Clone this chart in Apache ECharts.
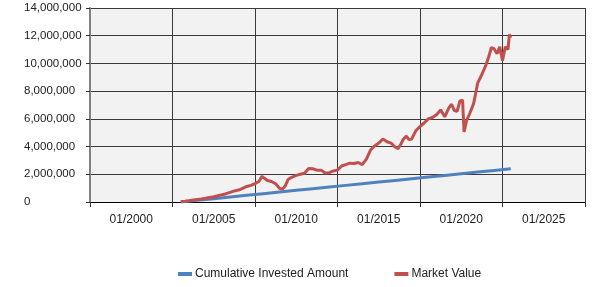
<!DOCTYPE html>
<html>
<head>
<meta charset="utf-8">
<script src="https://cdn.jsdelivr.net/npm/echarts@6/dist/echarts.min.js"></script>
<style>
html,body{margin:0;padding:0;background:#fff;}
#c{width:600px;height:287px;}
</style>
</head>
<body>
<div id="c"></div>
<script>
var tickLabels = ['01/2000','01/2005','01/2010','01/2015','01/2020','01/2025'];
var seriesNames = ['Cumulative Invested Amount','Market Value'];

var investedDates = [2003,2004,2005,2006,2007,2008,2009,2010,2011,2012,2013,2014,2015,2016,2017,2018,2019,2020,2021,2022,2023];
var investedValues = [0,120000,240000,360000,480000,600000,720000,840000,960000,1080000,1200000,1320000,1440000,1560000,1680000,1800000,1920000,2040000,2160000,2280000,2400000];

var marketDates = [
 2003.00,2003.25,2003.50,2003.75,2004.00,2004.25,2004.50,2004.75,
 2005.00,2005.25,2005.50,2005.75,2006.00,2006.25,2006.50,2006.75,
 2007.00,2007.25,2007.50,2007.75,2007.92,2008.00,2008.25,2008.50,2008.75,
 2009.00,2009.17,2009.33,2009.50,2009.75,2010.00,2010.25,2010.50,2010.75,
 2011.00,2011.25,2011.50,2011.75,2012.00,2012.25,2012.50,2012.75,
 2013.00,2013.25,2013.50,2013.75,2014.00,2014.25,2014.50,2014.75,
 2015.00,2015.25,2015.50,2015.75,2016.00,2016.17,2016.33,2016.50,2016.67,2016.83,
 2017.00,2017.25,2017.50,2017.75,2018.00,2018.25,2018.50,2018.75,
 2019.00,2019.25,2019.42,2019.58,2019.75,2019.92,2020.08,2020.17,2020.33,2020.50,2020.75,
 2021.00,2021.25,2021.50,2021.67,2021.83,2022.00,2022.17,2022.33,2022.50,2022.67,2022.83,2022.92,2023.00
];
var marketValues = [
 20000,50000,90000,140000,180000,220000,270000,330000,
 380000,450000,520000,600000,700000,800000,860000,980000,
 1120000,1200000,1320000,1500000,1850000,1840000,1550000,1480000,1320000,
 980000,930000,1150000,1620000,1800000,1920000,2000000,2080000,2420000,
 2400000,2300000,2300000,2100000,2120000,2240000,2300000,2600000,
 2700000,2800000,2780000,2850000,2700000,3100000,3750000,4050000,
 4250000,4550000,4350000,4250000,3950000,3850000,4150000,4550000,4750000,4500000,
 4550000,5150000,5450000,5700000,6000000,6100000,6300000,6650000,
 6150000,6800000,7050000,6600000,6550000,7300000,7350000,5050000,5900000,6350000,7100000,
 8600000,9200000,9900000,10500000,11150000,11050000,10700000,11200000,10200000,11200000,11000000,12100000,11850000
];

function pairs(xs, ys){ return xs.map(function(x,i){ return [x, ys[i]]; }); }
function fmt(v){ return String(v).replace(/\B(?=(\d{3})+(?!\d))/g, ','); }

var chart = echarts.init(document.getElementById('c'), null, {renderer:'canvas'});
chart.setOption({
  animation:false,
  textStyle:{fontFamily:'Liberation Sans, Arial, sans-serif'},
  grid:{left:90,right:15,top:8,bottom:85,show:true,backgroundColor:'#F2F2F2',borderWidth:0},
  legend:{
    data:seriesNames, left:173, top:263, icon:'rect', itemWidth:14, itemHeight:4,
    itemGap:46, textStyle:{fontSize:12,color:'#222',padding:[0,0,0,-2]}
  },
  xAxis:[{
    type:'category', data:tickLabels, boundaryGap:true, position:'bottom',
    axisLine:{show:true,lineStyle:{color:'#000',width:1}},
    axisTick:{show:true,length:5,lineStyle:{color:'#333'}},
    axisLabel:{fontSize:12,color:'#222',margin:12},
    splitLine:{show:true,interval:0,lineStyle:{color:'#3a3a3a',width:1}}
  },{
    type:'value', min:1997.5, max:2027.5, show:false
  }],
  yAxis:{
    type:'value', min:0, max:14000000, interval:2000000,
    axisLine:{show:true,lineStyle:{color:'#808080',width:2}},
    axisTick:{show:true,length:4,lineStyle:{color:'#333'}},
    axisLabel:{fontSize:11.5,color:'#222',align:'left',margin:66,formatter:fmt},
    splitLine:{show:true,lineStyle:{color:'#3a3a3a',width:1}}
  },
  series:[{
    name:seriesNames[0], type:'line', xAxisIndex:1, showSymbol:false, symbol:'none',
    data:pairs(investedDates, investedValues),
    itemStyle:{color:'#4F81BD'}, lineStyle:{color:'#4F81BD',width:3}
  },{
    name:seriesNames[1], type:'line', xAxisIndex:1, showSymbol:false, symbol:'none',
    data:pairs(marketDates, marketValues),
    itemStyle:{color:'#C0504D'}, lineStyle:{color:'#C0504D',width:3}
  }]
});
</script>
</body>
</html>
